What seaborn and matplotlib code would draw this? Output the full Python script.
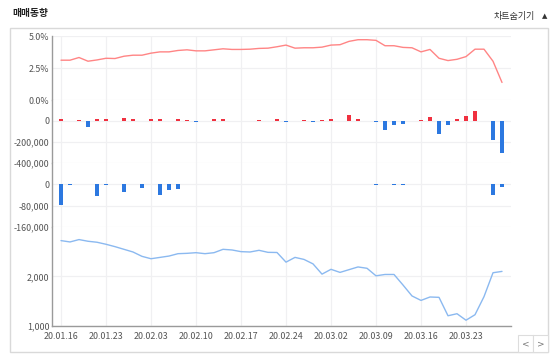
import numpy as np
import pandas as pd
import matplotlib
matplotlib.use("Agg")
import matplotlib.pyplot as plt
from matplotlib.patches import Rectangle
from matplotlib.ticker import FuncFormatter, FixedLocator
import seaborn as sns

sns.set_style("white")
plt.rcParams['font.family'] = ['Noto Sans CJK KR', 'DejaVu Sans']

dates = ["20.01.16", "20.01.17", "20.01.20", "20.01.21", "20.01.22", "20.01.23",
         "20.01.28", "20.01.29", "20.01.30", "20.01.31",
         "20.02.03", "20.02.04", "20.02.05", "20.02.06", "20.02.07",
         "20.02.10", "20.02.11", "20.02.12", "20.02.13", "20.02.14",
         "20.02.17", "20.02.18", "20.02.19", "20.02.20", "20.02.21",
         "20.02.24", "20.02.25", "20.02.26", "20.02.27", "20.02.28",
         "20.03.02", "20.03.03", "20.03.04", "20.03.05", "20.03.06",
         "20.03.09", "20.03.10", "20.03.11", "20.03.12", "20.03.13",
         "20.03.16", "20.03.17", "20.03.18", "20.03.19", "20.03.20",
         "20.03.23", "20.03.24", "20.03.25", "20.03.26", "20.03.27"]

pct = [3.11, 3.11, 3.32, 3.03, 3.13, 3.26, 3.24, 3.42, 3.50, 3.50,
       3.66, 3.76, 3.76, 3.87, 3.92, 3.84, 3.84, 3.92, 4.00, 3.95,
       3.95, 3.97, 4.03, 4.05, 4.16, 4.29, 4.05, 4.08, 4.08, 4.13,
       4.29, 4.32, 4.58, 4.71, 4.71, 4.66, 4.24, 4.24, 4.11, 4.08,
       3.76, 3.95, 3.26, 3.08, 3.18, 3.39, 3.97, 3.97, 3.03, 1.37]

bars1 = [18000, 0, 12000, -55000, 18000, 18000, 0, 28000, 20000, 2000,
         18000, 18000, 0, 15000, 6000, -6000, -4000, 15000, 15000, -4000,
         0, 1000, 5000, -4000, 15000, -12000, 0, 5000, -8000, 5000,
         18000, 1000, 56000, 15000, 0, -5000, -81000, -37000, -25000, 0,
         5000, 40000, -128000, -37000, 20000, 45000, 100000, 0, -181000, -300000]

bars2 = [-77000, -4000, 0, 0, -45000, -3000, 0, -28000, 0, -12000,
         0, -39000, -23000, -19000, 0, 0, 0, 0, 0, 0,
         0, 0, 0, 0, 0, 0, 0, 0, 0, 0,
         0, 0, 0, 0, 0, -3000, 0, -3000, -3000, 0,
         0, 0, 0, 0, 0, 0, 0, 0, -40000, -9000]

price = [2725, 2698, 2746, 2712, 2692, 2651, 2603, 2549, 2495, 2407,
         2359, 2386, 2413, 2461, 2468, 2481, 2461, 2481, 2549, 2536,
         2502, 2495, 2529, 2488, 2485, 2290, 2386, 2345, 2255, 2048,
         2145, 2083, 2138, 2193, 2166, 2014, 2041, 2041, 1828, 1607,
         1517, 1586, 1579, 1207, 1248, 1117, 1228, 1593, 2076, 2103]

RED = "#f0303f"
BLUE = "#2c78e0"
idx = np.arange(len(dates))

W, H = 555, 356
fig = plt.figure(figsize=(W / 100, H / 100), dpi=100)
gs = fig.add_gridspec(4, 1, height_ratios=[64, 63, 64, 99], hspace=0,
                      left=52 / W, right=511 / W, top=1 - 36 / H, bottom=1 - 326 / H)
axes = []
for i in range(4):
    ax = fig.add_subplot(gs[i], sharex=axes[0] if axes else None)
    axes.append(ax)

# panel 0: percentage line
df0 = pd.DataFrame({"i": idx, "v": pct})
sns.lineplot(data=df0, x="i", y="v", ax=axes[0], color="#ff8585", lw=1)
axes[0].set_ylim(0, 5)
axes[0].yaxis.set_major_locator(FixedLocator([0, 2.5, 5.0]))
axes[0].yaxis.set_major_formatter(FuncFormatter(lambda v, p: f"{v:.1f}%"))

# panels 1 and 2: bars
for ax, vals, lim, ticks in [(axes[1], bars1, (-400000, 200000), [0, -200000, -400000]),
                             (axes[2], bars2, (-160000, 80000), [0, -80000, -160000])]:
    dfb = pd.DataFrame({"i": idx, "v": vals,
                        "s": ["up" if v > 0 else "down" for v in vals]})
    sns.barplot(data=dfb, x="i", y="v", hue="s", palette={"up": RED, "down": BLUE},
                native_scale=True, dodge=False, width=0.5, legend=False, ax=ax,
                saturation=1, linewidth=0)
    ax.set_ylim(*lim)
    ax.yaxis.set_major_locator(FixedLocator(ticks))
    ax.yaxis.set_major_formatter(FuncFormatter(lambda v, p: f"{int(v):,}"))

# panel 3: price line
df3 = pd.DataFrame({"i": idx, "v": price})
sns.lineplot(data=df3, x="i", y="v", ax=axes[3], color="#8bb9f0", lw=1)
axes[3].set_ylim(1000, 3000)
axes[3].yaxis.set_major_locator(FixedLocator([1000, 2000]))
axes[3].yaxis.set_major_formatter(FuncFormatter(lambda v, p: f"{int(v):,}"))

for k, ax in enumerate(axes):
    ax.set_xlim(-1, 50)
    ax.set_xlabel("")
    ax.set_ylabel("")
    ax.set_facecolor("white")
    ax.grid(True, color="#f0f0f2", lw=0.9)
    ax.set_axisbelow(True)
    for s in ["top", "right"]:
        ax.spines[s].set_visible(False)
    ax.spines["left"].set_color("#9a9a9a")
    ax.spines["left"].set_linewidth(1)
    if k < 3:
        ax.spines["bottom"].set_visible(False)
        ax.tick_params(axis="x", labelbottom=False)
    else:
        ax.spines["bottom"].set_color("#9a9a9a")
        ax.spines["bottom"].set_linewidth(1)
    ax.tick_params(length=0, labelsize=6.4, labelcolor="#555555")
    ax.tick_params(axis="y", pad=2)
    ax.tick_params(axis="x", pad=4)

axes[3].xaxis.set_major_locator(FixedLocator(list(idx[::5])))
axes[3].set_xticklabels(dates[::5])

# frame box and header
fig.patches.append(Rectangle((10 / W, 1 - 352 / H), 538 / W, 324 / H,
                             transform=fig.transFigure, fill=False,
                             edgecolor="#d9d9d9", lw=1))
fig.text(12 / W, 1 - 13 / H, "매매동향", fontsize=7, weight="bold",
         color="#222222", va="center", ha="left")
fig.text(535 / W, 1 - 16 / H, "차트숨기기", fontsize=6.5, color="#333333",
         va="center", ha="right")
fig.text(545 / W, 1 - 16 / H, "▲", fontsize=5, color="#333333",
         va="center", ha="center", family=["DejaVu Sans"])
for bx, ch in [(518, "<"), (533, ">")]:
    fig.patches.append(Rectangle((bx / W, 1 - 352 / H), 15 / W, 17 / H,
                                 transform=fig.transFigure, fill=True,
                                 facecolor="white", edgecolor="#dddddd", lw=0.8))
    fig.text((bx + 7.5) / W, 1 - 343.5 / H, ch, fontsize=6.5, color="#777777",
             va="center", ha="center", family=["DejaVu Sans"])

fig.savefig("out.png", dpi=100, facecolor="white")
